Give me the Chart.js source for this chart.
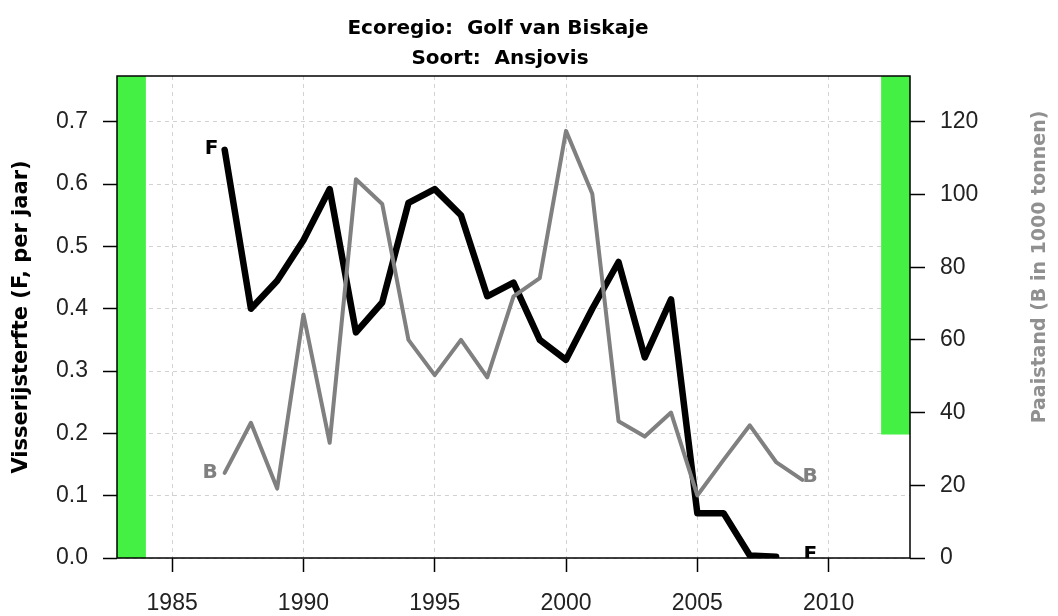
<!DOCTYPE html>
<html lang="nl">
<head>
<meta charset="utf-8">
<title>Ansjovis - Golf van Biskaje</title>
<script src="https://cdn.jsdelivr.net/npm/chart.js@4.4.1/dist/chart.umd.min.js"></script>
<style>
  html, body { margin: 0; padding: 0; background: #fff; }
</style>
</head>
<body>
<canvas id="chart" width="1058" height="616"></canvas>
<script>
// Ansjovis in de Golf van Biskaje: visserijsterfte (F) en paaistand (B)

const titleLines = ['Ecoregio:  Golf van Biskaje', 'Soort:  Ansjovis'];
const axisTitleF = 'Visserijsterfte (F, per jaar)';
const axisTitleB = 'Paaistand (B in 1000 tonnen)';

const yearsF = [1987, 1988, 1989, 1990, 1991, 1992, 1993, 1994, 1995, 1996, 1997,
                1998, 1999, 2000, 2001, 2002, 2003, 2004, 2005, 2006, 2007, 2008];
const mortalityF = [0.655, 0.40, 0.445, 0.51, 0.592, 0.362, 0.41, 0.57, 0.592, 0.55, 0.42,
                    0.442, 0.35, 0.318, 0.40, 0.475, 0.322, 0.415, 0.072, 0.072, 0.004, 0.002];

const yearsB = [1987, 1988, 1989, 1990, 1991, 1992, 1993, 1994, 1995, 1996, 1997, 1998,
                1999, 2000, 2001, 2002, 2003, 2004, 2005, 2006, 2007, 2008, 2009];
const biomassB = [23.4, 37.2, 19.1, 67, 31.7, 104.2, 97.4, 60, 50.3, 60, 49.7, 72,
                  77, 117.5, 100.2, 37.6, 33.4, 40, 17.2, 27, 36.5, 26.4, 21.5];

const yearTicks = [1985, 1990, 1995, 2000, 2005, 2010];
const fTicks = [0, 0.1, 0.2, 0.3, 0.4, 0.5, 0.6, 0.7];
const bTicks = [0, 20, 40, 60, 80, 100, 120];

const yearRange = [1982.9, 2013.1];
const fRange = [0, 0.7735];
const bRange = [0, 132.6];

// green reference bands: F band on the left, B band (from 34 upward) on the right
const bandF = { from: 1982.9, to: 1984.0, low: 0, high: fRange[1] };
const bandB = { from: 2012.0, to: 2013.1, low: 34, high: bRange[1] };

// series letters at both ends of the lines
const endLabels = [
    { text: 'F', x: 1986.5, y: 0.657, axis: 'y', color: '#000' },
    { text: 'F', x: 2009.3, y: 0.005, axis: 'y', color: '#000' },
    { text: 'B', x: 1986.45, y: 23.4, axis: 'y1', color: '#808080' },
    { text: 'B', x: 2009.3, y: 22.3, axis: 'y1', color: '#808080' }
];

const GREEN = '#45f045';
const GRID = '#d2d2d2';

const toPoints = (xs, ys) => xs.map((x, i) => ({ x: x, y: ys[i] }));

const bandDataset = (band, axis) => ({
    data: [{ x: band.from, y: band.high }, { x: band.to, y: band.high }],
    yAxisID: axis,
    fill: { value: band.low },
    backgroundColor: GREEN,
    borderWidth: 0,
    pointRadius: 0,
    order: 2
});

const frameAndText = {
    id: 'frameAndText',
    afterDatasetsDraw(chart) {
        const { ctx, chartArea: a, scales } = chart;

        ctx.save();
        ctx.beginPath();
        ctx.rect(a.left, a.top, a.right - a.left, a.bottom - a.top);
        ctx.clip();
        ctx.font = 'bold 20px "DejaVu Sans"';
        ctx.textAlign = 'center';
        ctx.textBaseline = 'middle';
        endLabels.forEach(l => {
            ctx.fillStyle = l.color;
            ctx.fillText(l.text, scales.x.getPixelForValue(l.x), scales[l.axis].getPixelForValue(l.y));
        });
        ctx.restore();

        ctx.save();
        ctx.strokeStyle = '#000';
        ctx.lineWidth = 1.5;
        ctx.strokeRect(a.left, a.top, a.right - a.left, a.bottom - a.top);
        ctx.restore();
    },
    afterDraw(chart) {
        const ctx = chart.ctx;
        ctx.save();
        ctx.textAlign = 'center';
        ctx.textBaseline = 'middle';

        ctx.font = 'bold 20px "DejaVu Sans"';
        ctx.fillStyle = '#000';
        ctx.fillText(titleLines[0], 498, 29);
        ctx.fillText(titleLines[1], 500, 59);

        ctx.save();
        ctx.font = 'bold 21px "DejaVu Sans"';
        ctx.translate(22, 317);
        ctx.rotate(-Math.PI / 2);
        ctx.fillText(axisTitleF, 0, 0);
        ctx.restore();

        ctx.save();
        ctx.font = 'bold 19px "DejaVu Sans"';
        ctx.translate(1040, 267);
        ctx.rotate(-Math.PI / 2);
        ctx.fillStyle = '#909090';
        ctx.fillText(axisTitleB, 0, 0);
        ctx.restore();

        ctx.restore();
    }
};

const tickFont = { family: '"Liberation Sans", Arial, sans-serif', size: 23 };

new Chart(document.getElementById('chart'), {
    type: 'line',
    data: {
        datasets: [
            {
                label: 'B',
                data: toPoints(yearsB, biomassB),
                yAxisID: 'y1',
                borderColor: '#808080',
                borderWidth: 4,
                borderJoinStyle: 'round',
                borderCapStyle: 'round',
                pointRadius: 0,
                order: 0
            },
            {
                label: 'F',
                data: toPoints(yearsF, mortalityF),
                yAxisID: 'y',
                borderColor: '#000',
                borderWidth: 6.5,
                borderJoinStyle: 'round',
                borderCapStyle: 'round',
                pointRadius: 0,
                order: 1
            },
            bandDataset(bandF, 'y'),
            bandDataset(bandB, 'y1')
        ]
    },
    options: {
        responsive: false,
        animation: false,
        layout: { padding: { top: 76, left: 0, right: 0, bottom: 0 } },
        plugins: {
            legend: { display: false },
            tooltip: { enabled: false },
            title: { display: false }
        },
        scales: {
            x: {
                type: 'linear',
                min: yearRange[0],
                max: yearRange[1],
                afterBuildTicks: s => { s.ticks = yearTicks.map(v => ({ value: v })); },
                afterFit: s => { s.height = 58; },
                grid: { color: GRID, lineWidth: 1, tickColor: '#000', tickWidth: 1.5, tickLength: 14, tickBorderDash: [] },
                border: { display: false, dash: [4, 4] },
                ticks: { color: '#222', font: tickFont, padding: 18, maxRotation: 0, autoSkip: false, callback: v => String(v) }
            },
            y: {
                position: 'left',
                min: fRange[0],
                max: fRange[1],
                afterBuildTicks: s => { s.ticks = fTicks.map(v => ({ value: v })); },
                afterFit: s => { s.width = 117; },
                grid: { color: GRID, lineWidth: 1, tickColor: '#000', tickWidth: 1.5, tickLength: 14, tickBorderDash: [] },
                border: { display: false, dash: [4, 4] },
                ticks: { color: '#222', font: tickFont, padding: 15, callback: v => v.toFixed(1) }
            },
            y1: {
                position: 'right',
                min: bRange[0],
                max: bRange[1],
                afterBuildTicks: s => { s.ticks = bTicks.map(v => ({ value: v })); },
                afterFit: s => { s.width = 148; },
                grid: { drawOnChartArea: false, tickColor: '#000', tickWidth: 1.5, tickLength: 15, tickBorderDash: [] },
                border: { display: false },
                ticks: { color: '#222', font: tickFont, padding: 15, callback: v => String(v) }
            }
        }
    },
    plugins: [frameAndText]
});
</script>
</body>
</html>
